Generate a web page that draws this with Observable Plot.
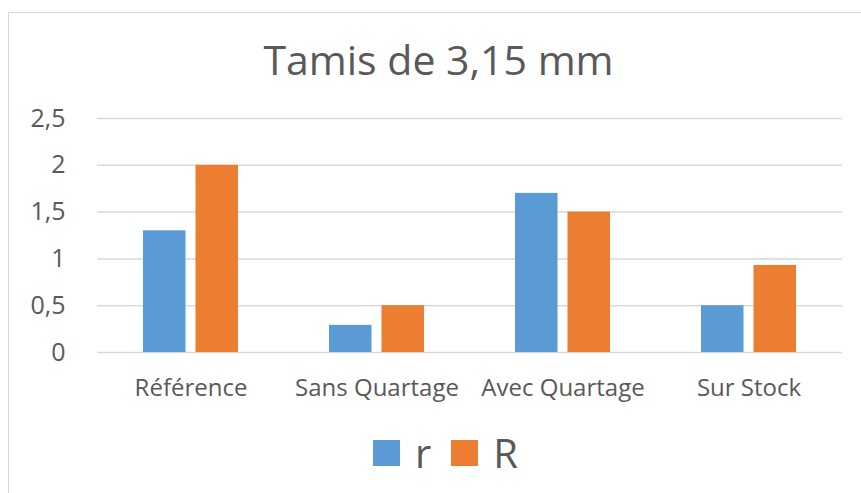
<!DOCTYPE html>
<html>
<head>
<meta charset="utf-8">
<script src="https://cdn.jsdelivr.net/npm/d3@7"></script>
<script src="https://cdn.jsdelivr.net/npm/@observablehq/plot@0.6"></script>
<style>
  html, body { margin: 0; padding: 0; background: #fff; overflow: hidden; }
  #page { position: relative; width: 861px; height: 493px; overflow: hidden; font-family: "Open Sans", sans-serif; color: #595959; }
  #frame { position: absolute; left: 8px; top: 12px; width: 900px; height: 520px; border: 1.5px solid #d9d9d9; box-sizing: border-box; }
  #title { position: absolute; left: 8px; top: 29px; width: 861px; text-align: center; font-size: 41px; line-height: 60px; color: #595959; }
  #chart { position: absolute; left: 0; top: 100px; }
  #chart svg { overflow: visible; }
  #legend { position: absolute; left: 15px; top: 431px; width: 861px; display: flex; justify-content: center; align-items: center; font-size: 40px; line-height: 44px; }
  .item { display: flex; align-items: center; margin: 0 10px 0 10px; }
  .swatch { width: 27px; height: 26px; margin-right: 15px; }
</style>
</head>
<body>
<div id="page">
  <div id="frame"></div>
  <div id="title">Tamis de 3,15 mm</div>
  <div id="chart"></div>
  <div id="legend"></div>
</div>
<script>
const categories = ["Référence", "Sans Quartage", "Avec Quartage", "Sur Stock"];
const seriesNames = ["r", "R"];
const seriesColors = ["#5b9bd5", "#ed7d31"];
const valuesSmallR = [1.3, 0.29, 1.7, 0.5];
const valuesBigR = [2.0, 0.5, 1.5, 0.93];
const yTicks = [0, 0.5, 1, 1.5, 2, 2.5];

const rows = [];
categories.forEach((c, i) => {
  rows.push({cat: c, series: "r", value: valuesSmallR[i]});
  rows.push({cat: c, series: "R", value: valuesBigR[i]});
});

const fmt = d => String(d).replace(".", ",");

const plot = Plot.plot({
  width: 861,
  height: 320,
  marginLeft: 97,
  marginRight: 19,
  marginTop: 18,
  marginBottom: 68,
  style: {fontFamily: "'Open Sans', sans-serif", color: "#595959", background: "transparent"},
  x: {domain: categories, paddingInner: 0.49, paddingOuter: 0.245, label: null},
  y: {domain: [0, 2.5], label: null},
  color: {domain: seriesNames, range: seriesColors},
  marks: [
    Plot.gridY(yTicks, {stroke: "#d9d9d9", strokeOpacity: 1, strokeWidth: 1.5}),
    Plot.barY(rows.filter(d => d.series === "r"), {x: "cat", y: "value", fill: "series", insetLeft: 0, insetRight: 52.5}),
    Plot.barY(rows.filter(d => d.series === "R"), {x: "cat", y: "value", fill: "series", insetLeft: 52.5, insetRight: 0}),
    Plot.axisY({ticks: yTicks, tickFormat: fmt, tickSize: 0, tickPadding: 32, fontSize: 25, color: "#595959", label: null}),
    Plot.axisX({tickSize: 0, tickPadding: 26, fontSize: 24, color: "#595959", label: null})
  ]
});
document.getElementById("chart").appendChild(plot);

const legend = document.getElementById("legend");
seriesNames.forEach((s, i) => {
  const item = document.createElement("div");
  item.className = "item";
  const sw = document.createElement("div");
  sw.className = "swatch";
  sw.style.background = seriesColors[i];
  const t = document.createElement("span");
  t.textContent = s;
  item.appendChild(sw);
  item.appendChild(t);
  legend.appendChild(item);
});
</script>
</body>
</html>
